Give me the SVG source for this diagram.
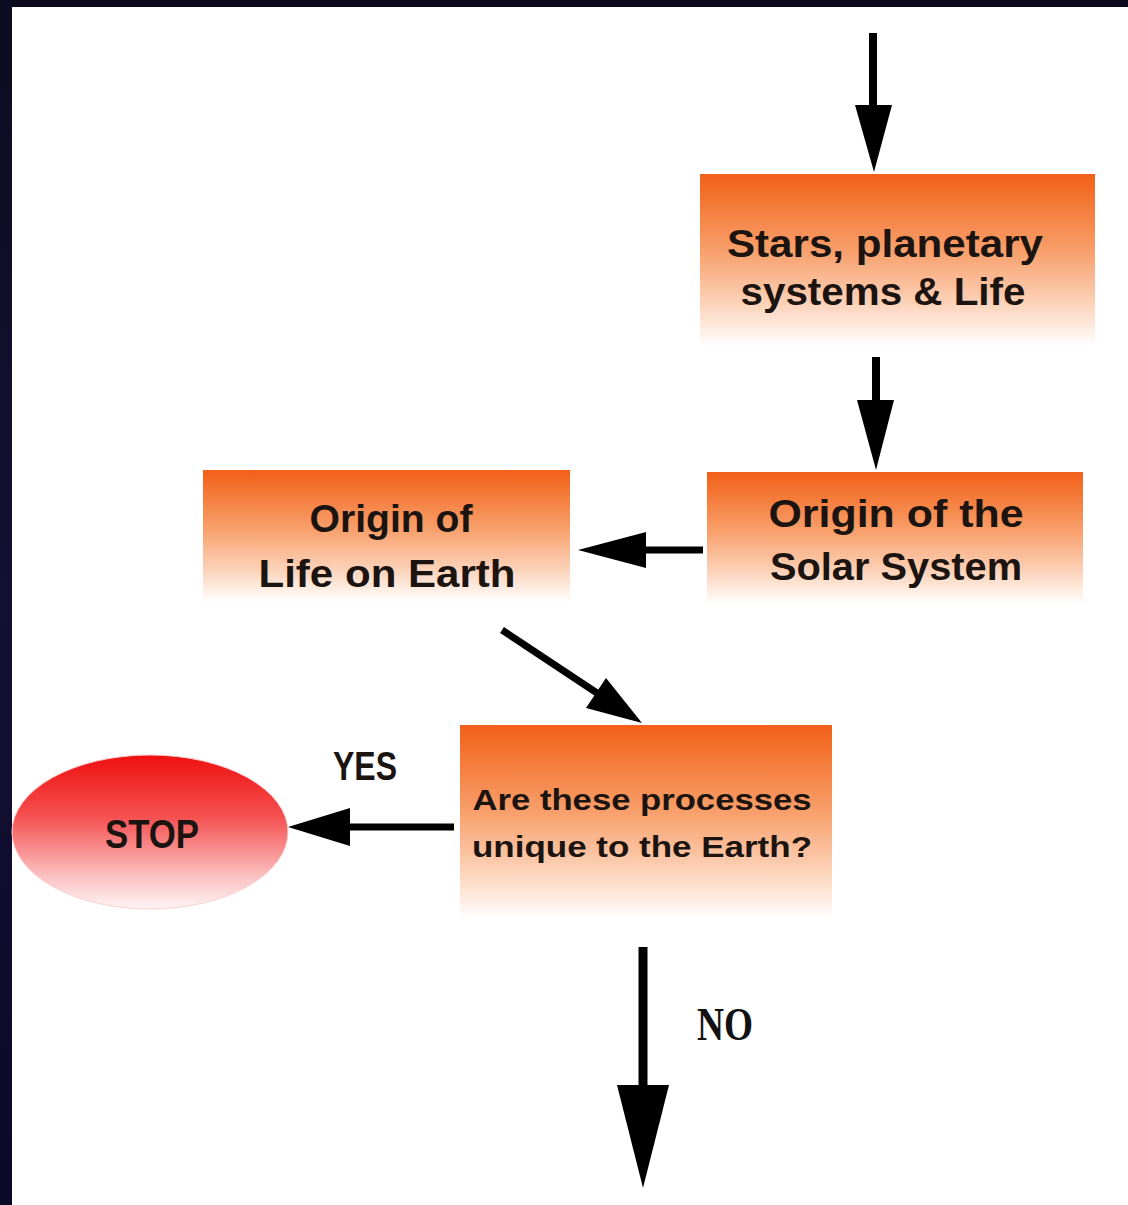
<svg xmlns="http://www.w3.org/2000/svg" width="1128" height="1205" viewBox="0 0 1128 1205">
<defs>
<linearGradient id="boxGrad" x1="0" y1="0" x2="0" y2="1">
<stop offset="0" stop-color="#f2601a"/>
<stop offset="0.12" stop-color="#f3712c"/>
<stop offset="0.45" stop-color="#f8a06c"/>
<stop offset="0.75" stop-color="#fcd2b8"/>
<stop offset="1" stop-color="#ffffff"/>
</linearGradient>
<linearGradient id="stopGrad" x1="0" y1="0" x2="0" y2="1">
<stop offset="0" stop-color="#ee1010"/>
<stop offset="0.4" stop-color="#f55050"/>
<stop offset="0.8" stop-color="#fbc4c4"/>
<stop offset="1" stop-color="#fff4f4"/>
</linearGradient>
<linearGradient id="edgeGrad" x1="0" y1="0" x2="0" y2="1">
<stop offset="0" stop-color="#0c0c20"/>
<stop offset="0.5" stop-color="#141032"/>
<stop offset="1" stop-color="#0a0a28"/>
</linearGradient>
</defs>
<style>
.box { fill: url(#boxGrad); }
.lbl { font-family: "Liberation Sans", Arial, sans-serif; font-weight: bold; fill: #1c1410; text-anchor: middle; }
.ln { stroke: #000; fill: none; stroke-linecap: butt; }
.hd { fill: #000; }
</style>
<rect width="1128" height="1205" fill="#ffffff"/>
<rect x="0" y="0" width="1128" height="7" fill="#0b0b1c"/>
<rect x="0" y="0" width="12" height="1205" fill="url(#edgeGrad)"/>

<g id="node-stars">
<rect class="box" x="700" y="174" width="395" height="172"/>
<text class="lbl" x="885" y="257" font-size="38" textLength="316" lengthAdjust="spacingAndGlyphs">Stars, planetary</text>
<text class="lbl" x="883" y="305" font-size="38" textLength="285" lengthAdjust="spacingAndGlyphs">systems &amp; Life</text>
</g>
<g id="node-solar">
<rect class="box" x="707" y="472" width="376" height="132"/>
<text class="lbl" x="896" y="527" font-size="38" textLength="255" lengthAdjust="spacingAndGlyphs">Origin of the</text>
<text class="lbl" x="896" y="580" font-size="38" textLength="252" lengthAdjust="spacingAndGlyphs">Solar System</text>
</g>
<g id="node-life">
<rect class="box" x="203" y="470" width="367" height="132"/>
<text class="lbl" x="391" y="532" font-size="38" textLength="163" lengthAdjust="spacingAndGlyphs">Origin of</text>
<text class="lbl" x="387" y="587" font-size="38" textLength="257" lengthAdjust="spacingAndGlyphs">Life on Earth</text>
</g>
<g id="node-question">
<rect class="box" x="460" y="725" width="372" height="194"/>
<text class="lbl" x="642" y="810" font-size="30" textLength="339" lengthAdjust="spacingAndGlyphs">Are these processes</text>
<text class="lbl" x="642" y="857" font-size="30" textLength="340" lengthAdjust="spacingAndGlyphs">unique to the Earth?</text>
</g>
<g id="node-stop">
<ellipse cx="150" cy="832" rx="138" ry="77" fill="url(#stopGrad)" stroke="#fbd0d0" stroke-width="1"/>
<text class="lbl" x="152" y="848" font-size="41" textLength="94" lengthAdjust="spacingAndGlyphs">STOP</text>
</g>

<g id="connectors">
<line class="ln" x1="873" y1="33" x2="873" y2="110" stroke-width="8"/>
<polygon class="hd" points="855,105 892,105 874,172"/>
<line class="ln" x1="876" y1="357" x2="876" y2="405" stroke-width="8"/>
<polygon class="hd" points="857,400 894,400 876,470"/>
<line class="ln" x1="703" y1="550" x2="640" y2="550" stroke-width="7"/>
<polygon class="hd" points="646,532 646,568 578,550"/>
<line class="ln" x1="502" y1="630" x2="600" y2="695" stroke-width="7"/>
<polygon class="hd" points="586,708 606,678 642,723"/>
<line class="ln" x1="454" y1="827" x2="345" y2="827" stroke-width="7"/>
<polygon class="hd" points="350,808 350,846 288,827"/>
<line class="ln" x1="643" y1="947" x2="643" y2="1090" stroke-width="9"/>
<polygon class="hd" points="617,1085 669,1085 643,1188"/>
<text class="lbl" x="365" y="780" font-size="41" textLength="64" lengthAdjust="spacingAndGlyphs">YES</text>
<text x="725" y="1040" font-family="Liberation Serif, 'Times New Roman', serif" font-weight="bold" font-size="46" fill="#111" text-anchor="middle" textLength="56" lengthAdjust="spacingAndGlyphs">NO</text>
</g>
</svg>
